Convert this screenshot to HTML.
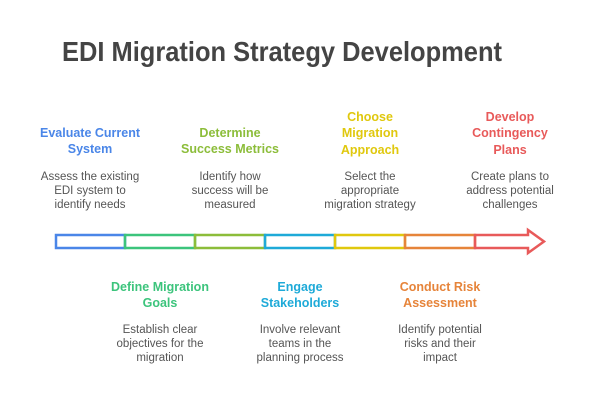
<!DOCTYPE html>
<html><head><meta charset="utf-8"><style>html,body{margin:0;padding:0;background:#fff}svg{display:block}</style></head>
<body>
<svg width="600" height="400" viewBox="0 0 600 400" xmlns="http://www.w3.org/2000/svg" font-family="Liberation Sans, sans-serif">
<text x="282" y="61" text-anchor="middle" font-size="28" font-weight="bold" fill="#444" textLength="440" lengthAdjust="spacingAndGlyphs">EDI Migration Strategy Development</text>
<g fill="none" stroke-width="2.5">
<rect x="56" y="235" width="69" height="13" stroke="#4a86e8"/>
<rect x="125" y="235" width="70" height="13" stroke="#3cc47c"/>
<rect x="195" y="235" width="70" height="13" stroke="#8cbd3a"/>
<rect x="265" y="235" width="70" height="13" stroke="#1eaad8"/>
<rect x="335" y="235" width="70" height="13" stroke="#e0c80e"/>
<rect x="405" y="235" width="70" height="13" stroke="#e6843a"/>
<path d="M475 235 H528 V230 L544 241.5 L528 253 V248 H475 Z" stroke="#e85a5a"/>
</g>
<g text-anchor="middle" font-size="12.5" font-weight="bold">
<text x="90" y="137" fill="#4a86e8">Evaluate Current</text><text x="90" y="153" fill="#4a86e8">System</text>
<text x="230" y="137" fill="#8cbd3a">Determine</text><text x="230" y="153" fill="#8cbd3a">Success Metrics</text>
<text x="370" y="121" fill="#e0c80e">Choose</text><text x="370" y="137" fill="#e0c80e">Migration</text><text x="370" y="154" fill="#e0c80e">Approach</text>
<text x="510" y="121" fill="#e85a5a">Develop</text><text x="510" y="137" fill="#e85a5a">Contingency</text><text x="510" y="154" fill="#e85a5a">Plans</text>
<text x="160" y="291" fill="#3cc47c">Define Migration</text><text x="160" y="307" fill="#3cc47c">Goals</text>
<text x="300" y="291" fill="#1eaad8">Engage</text><text x="300" y="307" fill="#1eaad8">Stakeholders</text>
<text x="440" y="291" fill="#e6843a">Conduct Risk</text><text x="440" y="307" fill="#e6843a">Assessment</text>
</g>
<g text-anchor="middle" font-size="11.5" fill="#555">
<text x="90" y="180">Assess the existing</text><text x="90" y="194">EDI system to</text><text x="90" y="208">identify needs</text>
<text x="230" y="180">Identify how</text><text x="230" y="194">success will be</text><text x="230" y="208">measured</text>
<text x="370" y="180">Select the</text><text x="370" y="194">appropriate</text><text x="370" y="208">migration strategy</text>
<text x="510" y="180">Create plans to</text><text x="510" y="194">address potential</text><text x="510" y="208">challenges</text>
<text x="160" y="333">Establish clear</text><text x="160" y="347">objectives for the</text><text x="160" y="361">migration</text>
<text x="300" y="333">Involve relevant</text><text x="300" y="347">teams in the</text><text x="300" y="361">planning process</text>
<text x="440" y="333">Identify potential</text><text x="440" y="347">risks and their</text><text x="440" y="361">impact</text>
</g>
</svg>
</body></html>
